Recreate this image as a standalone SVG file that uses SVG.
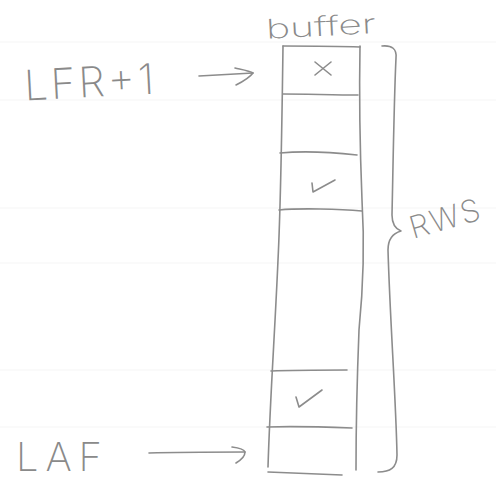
<svg xmlns="http://www.w3.org/2000/svg" width="496" height="482" viewBox="0 0 496 482">
  <style>
    .pen { fill: none; stroke: #8c8c8c; stroke-width: 1.6; stroke-linecap: round; stroke-linejoin: round; }
    .ink { fill: #8a8a8a; font-family: Inter, "Liberation Sans", "DejaVu Sans", sans-serif; font-weight: 200; }
    .rule { stroke: #f8f8f8; stroke-width: 1.5; }
  </style>

  <!-- paper -->
  <rect width="496" height="482" fill="#ffffff"/>
  <g id="ruling">
    <line class="rule" x1="0" y1="42" x2="496" y2="42"/>
    <line class="rule" x1="0" y1="100" x2="496" y2="100"/>
    <line class="rule" x1="0" y1="208" x2="496" y2="208"/>
    <line class="rule" x1="0" y1="263" x2="496" y2="263"/>
    <line class="rule" x1="0" y1="370" x2="496" y2="370"/>
    <line class="rule" x1="0" y1="427" x2="496" y2="427"/>
  </g>

  <!-- labels -->
  <g id="label-buffer">
    <text class="ink" x="266" y="36" font-size="27" textLength="110" lengthAdjust="spacingAndGlyphs" transform="rotate(-3 320 30)">buffer</text>
  </g>
  <g id="label-lfr">
    <text class="ink" x="24" y="97" font-size="42" textLength="130" lengthAdjust="spacing" transform="rotate(-3 90 82)">LFR+1</text>
  </g>
  <g id="label-laf">
    <text class="ink" x="16" y="471" font-size="40" textLength="86" lengthAdjust="spacing">LAF</text>
  </g>
  <g id="label-rws">
    <text class="ink" x="413" y="239" font-size="31" textLength="72" lengthAdjust="spacing" transform="rotate(-16 413 239)">RWS</text>
  </g>

  <!-- buffer column with its slots -->
  <g id="buffer">
    <!-- outer sides -->
    <path class="pen" d="M283,46 C282,120 281,200 278,260 C275,330 270,400 268,467"/>
    <path class="pen" d="M360,46 C359,100 360,150 362,200 C365,250 362,300 359,330 C357,380 356,430 356,470"/>
    <!-- top and bottom -->
    <path class="pen" d="M283,46 C310,46 335,46 360,47"/>
    <path class="pen" d="M268,472 C290,473 320,474 342,475"/>
    <!-- slot dividers -->
    <path class="pen" d="M283,94 C305,94 335,95 358,95"/>
    <path class="pen" d="M280,153 C300,151 330,152 357,155"/>
    <path class="pen" d="M279,210 C300,208 340,209 362,211"/>
    <path class="pen" d="M271,371 C295,370 325,370 347,370"/>
    <path class="pen" d="M267,427 C295,426 325,427 352,428"/>
  </g>

  <!-- slot marks -->
  <g id="mark-lost">
    <path class="pen" d="M315,62 L331,75 M331,62 L315,75" stroke-width="1.3"/>
  </g>
  <g id="mark-ack-1">
    <path class="pen" d="M312,183 L313,192 L335,180" stroke-width="1.3"/>
  </g>
  <g id="mark-ack-2">
    <path class="pen" d="M296,397 L299,407 L322,390" stroke-width="1.3"/>
  </g>

  <!-- window brace -->
  <g id="brace-rws">
    <path class="pen" d="M382,46 C392,45 397,49 396,58 C394,100 393,170 392,215 C392,224 396,229 401,231 C394,233 388,238 388,250 C390,320 396,400 397,455 C397,468 390,472 378,472"/>
  </g>

  <!-- pointers -->
  <g id="connectors">
    <path class="pen" d="M199,76 C220,75 238,74 253,73"/>
    <path class="pen" d="M235,68 C244,70 250,71 253,73 C250,77 244,81 236,85"/>
    <path class="pen" d="M149,453 C180,452 215,452 245,452"/>
    <path class="pen" d="M232,447 C240,448 244,449 245,452 C245,456 241,460 236,463"/>
  </g>
</svg>
